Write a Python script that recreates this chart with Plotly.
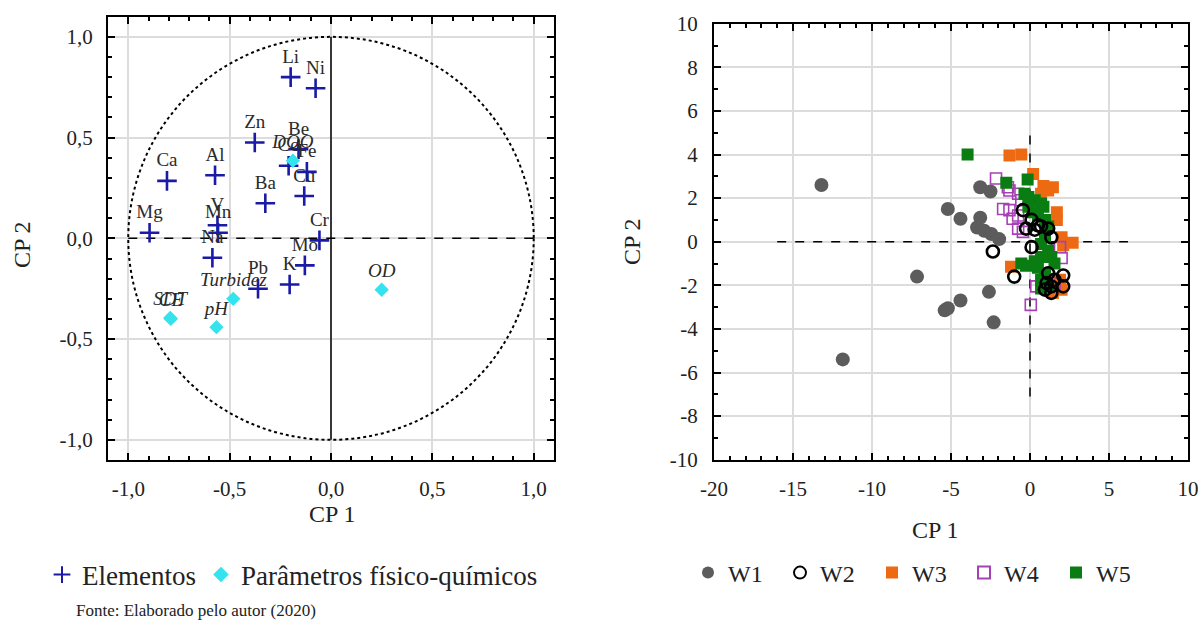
import plotly.graph_objects as go

# ---------------- Left panel: loadings ----------------
elem_names = ["Li", "Ni", "Zn", "Be", "Co", "Fe", "Cu", "Ca", "Al", "Ba",
              "Mg", "V", "Mn", "Na", "Cr", "Mo", "K", "Pb"]
elem_x = [-0.199, -0.076, -0.376, -0.160, -0.209, -0.119, -0.132, -0.809, -0.572, -0.324,
          -0.895, -0.560, -0.557, -0.585, -0.057, -0.129, -0.204, -0.360]
elem_y = [0.800, 0.745, 0.476, 0.443, 0.360, 0.330, 0.210, 0.285, 0.313, 0.174,
          0.028, 0.065, 0.028, -0.096, -0.010, -0.134, -0.229, -0.250]

param_names = ["DQO", "Turbidez", "SDT", "CE", "pH", "OD"]
param_x = [-0.188, -0.482, -0.793, -0.790, -0.565, 0.250]
param_y = [0.385, -0.300, -0.395, -0.400, -0.441, -0.255]

# ---------------- Right panel: scores ----------------
w1_x = [-13.2, -11.85, -7.15, -5.4, -5.2, -5.2, -4.4, -4.4, -3.15, -2.5, -3.15, -3.35, -2.9, -2.45, -1.95, -2.6, -2.3]
w1_y = [2.6, -5.4, -1.6, -3.15, -3.05, 1.5, 1.05, -2.7, 2.5, 2.3, 1.1, 0.65, 0.5, 0.35, 0.12, -2.3, -3.7]

w2_x = [-2.35, -1.0, -0.45, 0.1, 0.5, 0.3, -0.25, 0.7, 1.15, 1.35, 0.1, 1.15, 1.55, 1.35, 0.95, 1.05, 2.1, 2.1, 1.35]
w2_y = [-0.45, -1.6, 1.45, 1.0, 0.75, 0.55, 0.6, 0.7, 0.6, 0.2, -0.25, -1.45, -1.75, -2.05, -2.2, -1.9, -1.55, -2.05, -2.35]

w3_x = [-1.3, -0.55, 0.2, 0.85, 1.45, 0.7, 1.15, 1.7, 1.7, 2.0, 2.7, 2.1, -1.2, 1.9, 2.0, 1.45]
w3_y = [3.95, 4.0, 3.1, 2.55, 2.5, 2.2, 2.35, 1.35, 1.0, 0.2, -0.05, -0.15, -1.15, -1.75, -2.2, -2.35]

w4_x = [-2.15, -1.3, -1.4, -1.7, -1.3, -1.1, -0.75, -0.75, -0.45, -0.75, -0.55, 1.9, 2.0, 0.4, 0.05, 1.55]
w4_y = [2.9, 2.35, 2.5, 1.5, 1.45, 1.05, 1.2, 0.6, 0.45, 2.2, 1.9, -0.25, -0.75, -2.05, -2.9, -1.9]

w5_x = [-3.95, -1.5, -0.15, -0.35, -0.1, 0.3, 0.7, 0.85, -0.1, 0.2, 0.5, 0.95, 1.15, 0.95, 0.7, 1.15, 1.35, 0.7, 0.3, -0.25, 0.5, 0.95, 0.7, 1.15, 0.7, 1.55, -0.55]
w5_y = [4.0, 2.7, 2.85, 2.2, 2.05, 1.9, 1.75, 1.6, 1.6, 1.35, 1.2, 1.0, 0.7, 0.2, -0.1, -0.4, -0.7, -0.7, -0.9, -1.1, -1.2, -1.45, -1.75, -2.05, -2.15, -1.0, -1.0]

left_ticks = [-1.0, -0.5, 0.0, 0.5, 1.0]
left_ticktext = ["-1,0", "-0,5", "0,0", "0,5", "1,0"]
right_xticks = [-20, -15, -10, -5, 0, 5, 10]
right_xticktext = ["-20", "-15", "-10", "-5", "0", "5", "10"]
right_yticks = [-10, -8, -6, -4, -2, 0, 2, 4, 6, 8, 10]
right_yticktext = ["-10", "-8", "-6", "-4", "-2", "0", "2", "4", "6", "8", "10"]

SERIF = "Liberation Serif"
W, H, OFF = 1202, 627, 0  # body margin removed via post_script


def px(xp):
    return (xp - OFF) / W


def py(yp):
    return 1 - (yp - OFF) / H


fig = go.Figure()

# Left panel traces
fig.add_trace(go.Scatter(
    x=elem_x, y=elem_y, mode="markers+text", text=elem_names,
    textposition="top center", textfont=dict(family=SERIF, size=19, color="#2a2a2a"),
    marker=dict(symbol="cross-thin", size=14, line=dict(width=2.6, color="#1a1aa6")),
    name="Elementos", xaxis="x", yaxis="y", legend="legend", cliponaxis=False))
fig.add_trace(go.Scatter(
    x=param_x, y=param_y, mode="markers+text",
    text=["<i>" + n + "</i>" for n in param_names],
    textposition="top center", textfont=dict(family=SERIF, size=19, color="#2a2a2a"),
    marker=dict(symbol="diamond", size=11, color="#33e3ee"),
    name="Parâmetros físico-químicos", xaxis="x", yaxis="y", legend="legend", cliponaxis=False))

# Right panel traces
series = [
    ("W3", w3_x, w3_y, dict(symbol="square", size=12, color="#ee6a12"), 3),
    ("W4", w4_x, w4_y, dict(symbol="square-open", size=11, color="#a540b5", line=dict(width=1.6, color="#a540b5")), 4),
    ("W5", w5_x, w5_y, dict(symbol="square", size=12, color="#0a7d12"), 5),
    ("W1", w1_x, w1_y, dict(symbol="circle", size=14, color="#5c5c5c"), 1),
    ("W2", w2_x, w2_y, dict(symbol="circle-open", size=12, color="black", line=dict(width=2.6, color="black")), 2),
]
for name, xs, ys, mk, rank in series:
    fig.add_trace(go.Scatter(x=xs, y=ys, mode="markers", marker=mk, name=name,
                             xaxis="x2", yaxis="y2", legend="legend2", legendrank=rank))

axis_common = dict(showline=True, linecolor="black", linewidth=2, mirror="ticks",
                   ticks="inside", ticklen=7, tickwidth=1.5, tickcolor="black",
                   showgrid=True, gridcolor="#dcdcdc", gridwidth=1.5, zeroline=False,
                   automargin=False,
                   tickfont=dict(family=SERIF, size=21, color="#222"))

fig.update_layout(
    width=W, height=H, margin=dict(l=0, r=0, t=0, b=0, autoexpand=False),
    paper_bgcolor="white", plot_bgcolor="white",
    xaxis=dict(domain=[px(108), px(554)], range=[-1.1, 1.1], tickvals=left_ticks, ticktext=left_ticktext,
               minor=dict(dtick=0.1, ticks="inside", ticklen=4, tickcolor="black", showgrid=False),
               anchor="y", ticklabelstandoff=9, **axis_common),
    yaxis=dict(domain=[py(460), py(16.7)], range=[-1.1, 1.1], tickvals=left_ticks, ticktext=left_ticktext,
               minor=dict(dtick=0.1, ticks="inside", ticklen=4, tickcolor="black", showgrid=False),
               anchor="x", ticklabelstandoff=9, **axis_common),
    xaxis2=dict(domain=[px(714), px(1188)], range=[-20, 10], tickvals=right_xticks, ticktext=right_xticktext,
                minor=dict(dtick=1, ticks="inside", ticklen=4, tickcolor="black", showgrid=False),
                anchor="y2", ticklabelstandoff=9, **axis_common),
    yaxis2=dict(domain=[py(459.7), py(23.7)], range=[-10, 10], tickvals=right_yticks, ticktext=right_yticktext,
                minor=dict(dtick=1, ticks="inside", ticklen=4, tickcolor="black", showgrid=False),
                anchor="x2", ticklabelstandoff=10, **axis_common),
    legend=dict(orientation="h", x=px(42), y=py(575), xanchor="left", yanchor="middle",
                font=dict(family=SERIF, size=27, color="#222"), bgcolor="rgba(0,0,0,0)",
                itemwidth=30, itemsizing="constant", tracegroupgap=0),
    legend2=dict(orientation="h", x=px(688), y=py(573), xanchor="left", yanchor="middle",
                 font=dict(family=SERIF, size=24, color="#222"), bgcolor="rgba(0,0,0,0)",
                 itemwidth=30, itemsizing="constant", traceorder="normal",
                 entrywidth=47, entrywidthmode="pixels"),
    showlegend=True,
)

# Left panel reference lines and unit circle
fig.add_shape(type="circle", xref="x", yref="y", x0=-1, y0=-1, x1=1, y1=1,
              line=dict(color="black", width=2, dash="dot"), layer="between")
fig.add_shape(type="line", xref="x", yref="y", x0=-1, y0=0, x1=1, y1=0,
              line=dict(color="black", width=1.5, dash="dash"), layer="between")
fig.add_shape(type="line", xref="x", yref="y", x0=0, y0=-1, x1=0, y1=1,
              line=dict(color="black", width=1.5), layer="between")

# Right panel reference lines
fig.add_shape(type="line", xref="x2", yref="y2", x0=-16, y0=0, x1=6.2, y1=0,
              line=dict(color="black", width=1.5, dash="dash"), layer="between")
fig.add_shape(type="line", xref="x2", yref="y2", x0=0, y0=-7.1, x1=0, y1=4.9,
              line=dict(color="black", width=1.5, dash="dash"), layer="between")

# Axis titles
title_font = dict(family=SERIF, size=24, color="#222")
for label, xp, yp, ang in [("CP 1", 332, 514, 0), ("CP 2", 22, 245, -90),
                           ("CP 1", 935, 530, 0), ("CP 2", 632, 242, -90)]:
    fig.add_annotation(text=label, x=px(xp), y=py(yp), xref="paper", yref="paper",
                       xanchor="center", yanchor="middle", showarrow=False,
                       font=title_font, textangle=ang)
fig.add_annotation(text="Fonte: Elaborado pelo autor (2020)", x=px(74), y=py(610),
                   xref="paper", yref="paper", xanchor="left", yanchor="middle", showarrow=False,
                   font=dict(family=SERIF, size=17, color="#222"))

fig.write_html("out.html", config={"displayModeBar": False},
               post_script="document.body.style.margin='0';document.body.style.overflow='hidden';")
